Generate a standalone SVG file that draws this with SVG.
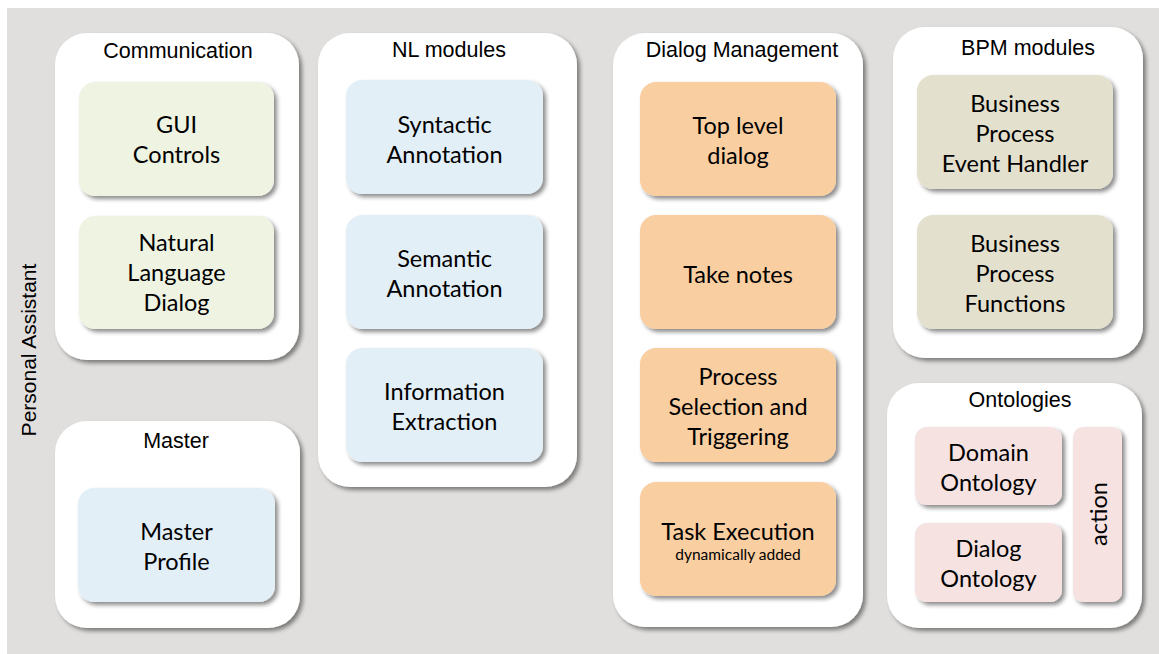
<svg xmlns="http://www.w3.org/2000/svg" width="1159" height="654" viewBox="0 0 1159 654">
<defs>
<filter id="sh" x="-10%" y="-10%" width="125%" height="125%">
<feDropShadow dx="3" dy="3" stdDeviation="2" flood-color="#000" flood-opacity="0.45"/>
</filter>
<style>
.cont{fill:#fff;filter:url(#sh)}
.box{filter:url(#sh)}
.g{fill:#eef3e2}
.b{fill:#e3eff7}
.o{fill:#f9cea1}
.t{fill:#e4e0ce}
.p{fill:#f5e2e1}
.title{font-family:"Liberation Sans",Arial,sans-serif;font-size:21.5px;fill:#000;text-anchor:middle}
.lbl{font-family:Lato,"Open Sans",sans-serif;font-size:23.5px;fill:#000;text-anchor:middle}
.small{font-family:Lato,"Open Sans",sans-serif;font-size:15.5px;fill:#000;text-anchor:middle}
</style>
</defs>
<rect x="0" y="0" width="1159" height="654" fill="#fff"/>
<rect x="7" y="8" width="1152" height="646" fill="#e0dfdd"/>
<text class="title" transform="translate(36,350) rotate(-90)" style="font-size:21px">Personal Assistant</text>

<g id="communication">
<rect class="cont" x="55" y="33" width="244" height="327" rx="32"/>
<text class="title" x="178" y="58">Communication</text>
</g>
<g id="gui-controls">
<rect class="box g" x="79" y="82" width="195" height="114" rx="16"/>
<text class="lbl" x="176.5" y="133">GUI</text>
<text class="lbl" x="176.5" y="163">Controls</text>
</g>
<g id="natural-language-dialog">
<rect class="box g" x="79" y="216" width="195" height="113" rx="16"/>
<text class="lbl" x="176.5" y="250.5">Natural</text>
<text class="lbl" x="176.5" y="280.5">Language</text>
<text class="lbl" x="176.5" y="310.5">Dialog</text>
</g>

<g id="master">
<rect class="cont" x="55" y="421" width="245" height="207" rx="32"/>
<text class="title" x="176" y="448">Master</text>
</g>
<g id="master-profile">
<rect class="box b" x="78" y="488" width="197" height="114" rx="16"/>
<text class="lbl" x="176.5" y="540">Master</text>
<text class="lbl" x="176.5" y="570">Profile</text>
</g>

<g id="nl-modules">
<rect class="cont" x="318" y="33" width="259" height="454" rx="32"/>
<text class="title" x="449" y="57">NL modules</text>
</g>
<g id="syntactic-annotation">
<rect class="box b" x="346" y="80" width="197" height="114" rx="16"/>
<text class="lbl" x="444.5" y="133">Syntactic</text>
<text class="lbl" x="444.5" y="163">Annotation</text>
</g>
<g id="semantic-annotation">
<rect class="box b" x="346" y="215" width="197" height="114" rx="16"/>
<text class="lbl" x="444.5" y="267">Semantic</text>
<text class="lbl" x="444.5" y="297">Annotation</text>
</g>
<g id="information-extraction">
<rect class="box b" x="346" y="348" width="197" height="114" rx="16"/>
<text class="lbl" x="444.5" y="400">Information</text>
<text class="lbl" x="444.5" y="430">Extraction</text>
</g>

<g id="dialog-management">
<rect class="cont" x="613" y="33" width="250" height="594" rx="32"/>
<text class="title" x="742" y="57">Dialog Management</text>
</g>
<g id="top-level-dialog">
<rect class="box o" x="640" y="82" width="196" height="114" rx="16"/>
<text class="lbl" x="738" y="134">Top level</text>
<text class="lbl" x="738" y="164">dialog</text>
</g>
<g id="take-notes">
<rect class="box o" x="640" y="215" width="196" height="114" rx="16"/>
<text class="lbl" x="738" y="283">Take notes</text>
</g>
<g id="process-selection">
<rect class="box o" x="640" y="348" width="196" height="114" rx="16"/>
<text class="lbl" x="738" y="385">Process</text>
<text class="lbl" x="738" y="415">Selection and</text>
<text class="lbl" x="738" y="445">Triggering</text>
</g>
<g id="task-execution">
<rect class="box o" x="640" y="482" width="196" height="114" rx="16"/>
<text class="lbl" x="738" y="540">Task Execution</text>
<text class="small" x="738" y="560">dynamically added</text>
</g>

<g id="bpm-modules">
<rect class="cont" x="893" y="27" width="250" height="331" rx="32"/>
<text class="title" x="1028" y="55">BPM modules</text>
</g>
<g id="bp-event-handler">
<rect class="box t" x="917" y="75" width="196" height="114" rx="16"/>
<text class="lbl" x="1015" y="112">Business</text>
<text class="lbl" x="1015" y="142">Process</text>
<text class="lbl" x="1015" y="172">Event Handler</text>
</g>
<g id="bp-functions">
<rect class="box t" x="917" y="215" width="196" height="114" rx="16"/>
<text class="lbl" x="1015" y="252">Business</text>
<text class="lbl" x="1015" y="282">Process</text>
<text class="lbl" x="1015" y="312">Functions</text>
</g>

<g id="ontologies">
<rect class="cont" x="887" y="383" width="255" height="245" rx="32"/>
<text class="title" x="1020" y="407">Ontologies</text>
</g>
<g id="domain-ontology">
<rect class="box p" x="915" y="427" width="147" height="78" rx="12"/>
<text class="lbl" x="988.5" y="461">Domain</text>
<text class="lbl" x="988.5" y="491">Ontology</text>
</g>
<g id="dialog-ontology">
<rect class="box p" x="915" y="523" width="147" height="79" rx="12"/>
<text class="lbl" x="988.5" y="557">Dialog</text>
<text class="lbl" x="988.5" y="587">Ontology</text>
</g>
<g id="action">
<rect class="box p" x="1073" y="427" width="49" height="175" rx="10"/>
<text class="lbl" transform="translate(1107,514) rotate(-90)">action</text>
</g>
<g id="connectors"></g>
</svg>
